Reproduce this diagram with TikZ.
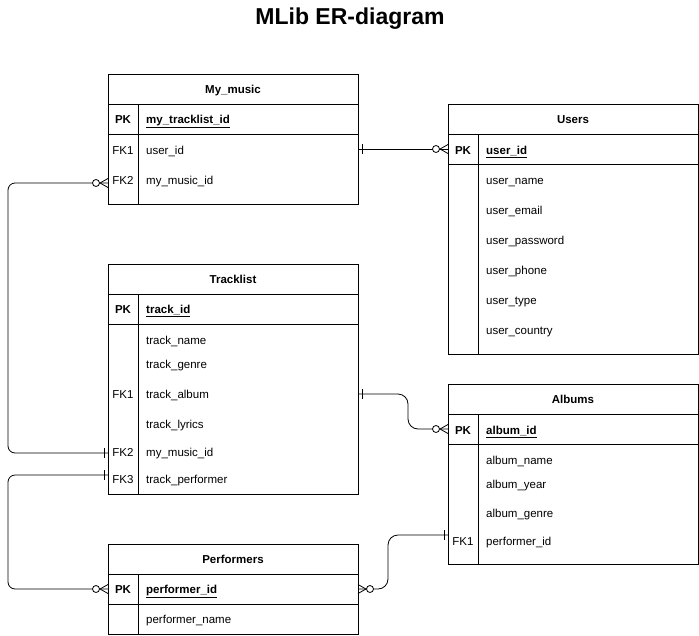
\documentclass[tikz,border=0pt]{standalone}
\usepackage{fontspec}
\setmainfont{Liberation Sans}
\begin{document}
\begin{tikzpicture}[x=1pt,y=-1pt]
\tikzset{
  tbl/.style={draw=black, line width=0.8pt, anchor=north west, inner sep=0, fill=white},
  sep/.style={draw=black, line width=0.8pt},
  hdr/.style={font=\bfseries\fontsize{11.5}{14}\selectfont, inner sep=0, anchor=base, yshift=-4.2pt},
  keyc/.style={font=\fontsize{11.5}{14}\selectfont, inner sep=0, anchor=base, yshift=-4.2pt},
  pkc/.style={font=\bfseries\fontsize{11.5}{14}\selectfont, inner sep=0, anchor=base, yshift=-4.2pt},
  fld/.style={anchor=base west, font=\fontsize{11.5}{14}\selectfont, inner sep=0, yshift=-4.2pt},
  conn/.style={draw=black, line width=0.8pt, rounded corners=7pt},
  erline/.style={draw=black, line width=0.8pt},
}
\newcommand\zmany[2]{%
  \begin{scope}[shift={(#1)}, xscale=#2]
    \draw[erline] (0,-4.5) -- (8,0) -- (0,4.5);
    \draw[erline, fill=white] (12,0) circle (3.5);
  \end{scope}}
\newcommand\onebar[2]{%
  \begin{scope}[shift={(#1)}, xscale=#2]
    \draw[erline] (4,-5) -- (4,5);
  \end{scope}}
\useasboundingbox (0,0) rectangle (699,635);
% title
\node[font=\bfseries\fontsize{23}{27}\selectfont, inner sep=0, anchor=base] (title) at (350,24) {MLib ER-diagram};

% ---------- My_music
\node[tbl, minimum width=250pt, minimum height=130pt] (mm) at (108,74) {};
\draw[sep] (108,104) -- (358,104) (108,134) -- (358,134) (138,104) -- (138,204);
\node[hdr] (mmh) at (233,89) {My\_music};
\node[pkc] (mmpk) at (123,119) {PK};
\node[fld, font=\bfseries\fontsize{11.5}{14}\selectfont] (mmpkf) at (146,119) {\underline{my\_tracklist\_id}};
\node[keyc] (mmk1) at (123,150) {FK1};
\node[fld] (mmf1) at (146,150) {user\_id};
\node[keyc] (mmk2) at (123,180) {FK2};
\node[fld] (mmf2) at (146,180) {my\_music\_id};

% ---------- Users
\node[tbl, minimum width=250pt, minimum height=250pt] (us) at (448,104) {};
\draw[sep] (448,134) -- (698,134) (448,164) -- (698,164) (478,134) -- (478,354);
\node[hdr] (ush) at (573,119) {Users};
\node[pkc] (uspk) at (463,150) {PK};
\node[fld, font=\bfseries\fontsize{11.5}{14}\selectfont] (uspkf) at (486,150) {\underline{user\_id}};
\node[fld] (usf1) at (486,180) {user\_name};
\node[fld] (usf2) at (486,210) {user\_email};
\node[fld] (usf3) at (486,240) {user\_password};
\node[fld] (usf4) at (486,270) {user\_phone};
\node[fld] (usf5) at (486,300) {user\_type};
\node[fld] (usf6) at (486,330) {user\_country};

% ---------- Tracklist
\node[tbl, minimum width=250pt, minimum height=230pt] (tl) at (108,264) {};
\draw[sep] (108,294) -- (358,294) (108,324) -- (358,324) (138,294) -- (138,494);
\node[hdr] (tlh) at (233,279) {Tracklist};
\node[pkc] (tlpk) at (123,309) {PK};
\node[fld, font=\bfseries\fontsize{11.5}{14}\selectfont] (tlpkf) at (146,309) {\underline{track\_id}};
\node[fld] (tlf1) at (146,340) {track\_name};
\node[fld] (tlf2) at (146,364) {track\_genre};
\node[keyc] (tlk3) at (123,394) {FK1};
\node[fld] (tlf3) at (146,394) {track\_album};
\node[fld] (tlf4) at (146,424) {track\_lyrics};
\node[keyc] (tlk5) at (123,452) {FK2};
\node[fld] (tlf5) at (146,452) {my\_music\_id};
\node[keyc] (tlk6) at (123,479) {FK3};
\node[fld] (tlf6) at (146,479) {track\_performer};

% ---------- Albums
\node[tbl, minimum width=250pt, minimum height=180pt] (al) at (448,384) {};
\draw[sep] (448,414) -- (698,414) (448,444) -- (698,444) (478,414) -- (478,564);
\node[hdr] (alh) at (573,399) {Albums};
\node[pkc] (alpk) at (463,430) {PK};
\node[fld, font=\bfseries\fontsize{11.5}{14}\selectfont] (alpkf) at (486,430) {\underline{album\_id}};
\node[fld] (alf1) at (486,460) {album\_name};
\node[fld] (alf2) at (486,484) {album\_year};
\node[fld] (alf3) at (486,513) {album\_genre};
\node[keyc] (alk4) at (463,541) {FK1};
\node[fld] (alf4) at (486,541) {performer\_id};

% ---------- Performers
\node[tbl, minimum width=250pt, minimum height=90pt] (pf) at (108,544) {};
\draw[sep] (108,574) -- (358,574) (108,604) -- (358,604) (138,574) -- (138,634);
\node[hdr] (pfh) at (233,559) {Performers};
\node[pkc] (pfpk) at (123,589) {PK};
\node[fld, font=\bfseries\fontsize{11.5}{14}\selectfont] (pfpkf) at (146,589) {\underline{performer\_id}};
\node[fld] (pff1) at (146,619) {performer\_name};

% ---------- connector end points
\coordinate (mmA) at (358,149);
\coordinate (usA) at (448,149);
\coordinate (mmB) at (108,183);
\coordinate (tlB) at (108,453);
\coordinate (tlC) at (358,394);
\coordinate (alC) at (448,429);
\coordinate (tlD) at (108,475);
\coordinate (pfD) at (108,589);
\coordinate (pfE) at (358,589);
\coordinate (alE) at (448,535);

% ---------- connectors
\draw[conn] (mmA) -- (usA);
\draw[conn] (mmB) -- (8,183) -- (8,453) -- (tlB);
\draw[conn, rounded corners=10pt] (tlC) -- (408,394) -- (408,429) -- (alC);
\draw[conn] (tlD) -- (8,475) -- (8,589) -- (pfD);
\draw[conn, rounded corners=10pt] (pfE) -- (388,589) -- (388,535) -- (alE);

% ---------- markers
\onebar{mmA}{1}
\zmany{usA}{-1}
\zmany{mmB}{-1}
\onebar{tlB}{-1}
\onebar{tlC}{1}
\zmany{alC}{-1}
\onebar{tlD}{-1}
\zmany{pfD}{-1}
\zmany{pfE}{1}
\onebar{alE}{-1}
\end{tikzpicture}
\end{document}
